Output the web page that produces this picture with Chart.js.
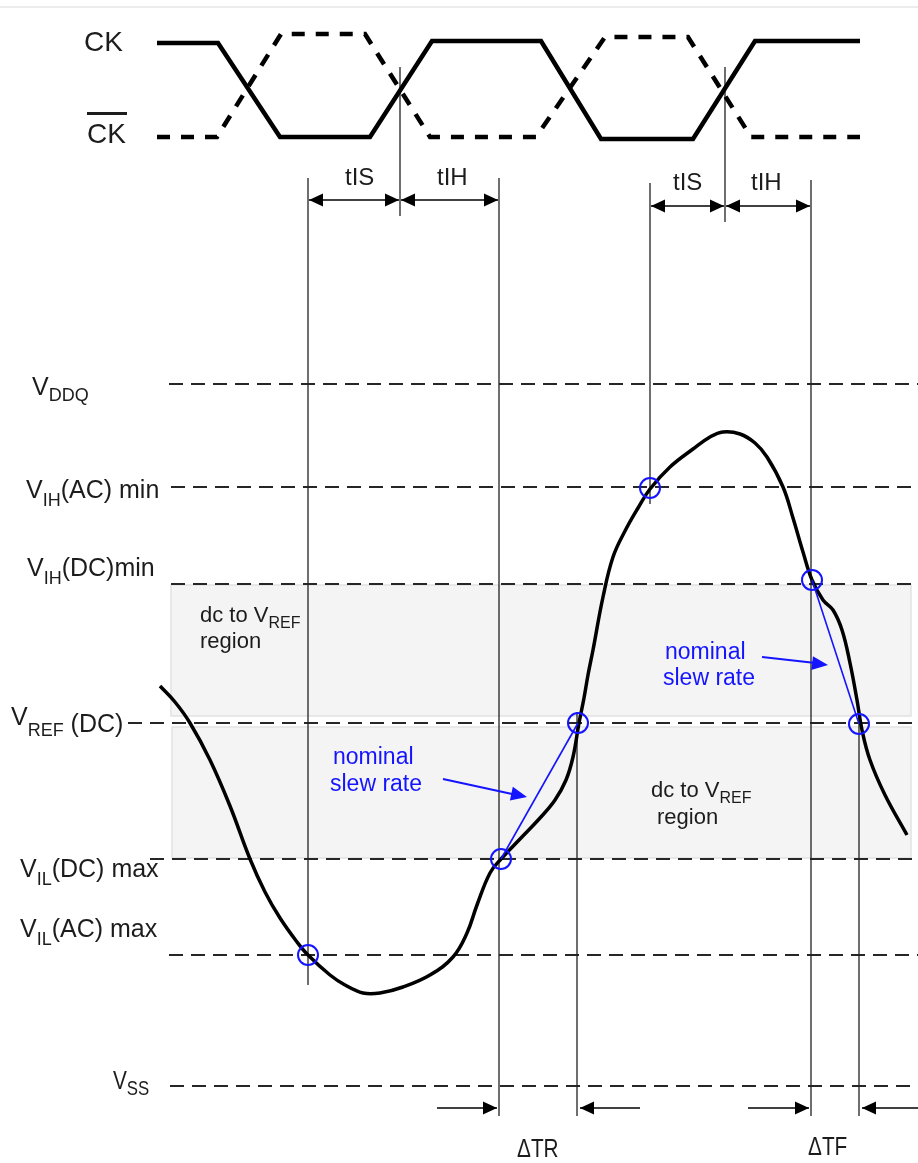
<!DOCTYPE html>
<html>
<head>
<meta charset="utf-8">
<title>Input setup / hold timing</title>
<script src="https://cdn.jsdelivr.net/npm/chart.js@4.4.1/dist/chart.umd.min.js"></script>
<style>
  html, body { margin: 0; padding: 0; background: #ffffff; }
  canvas { display: block; }
</style>
</head>
<body>
<canvas id="timingChart" width="918" height="1163"></canvas>
<script>
const ctxTiming = document.getElementById('timingChart').getContext('2d');

// clock waveforms (x = time, y = level, in sheet units)
const ckTime = [157, 218, 280, 370, 432, 541, 601, 693, 755, 860];
const ckLevel = [43, 43, 137, 137, 41, 41, 139, 139, 41, 41];
const ckBarTime = [157, 217, 281, 365, 430, 536, 605, 688, 751, 860];
const ckBarLevel = [137, 137, 34, 34, 137, 137, 37, 37, 137, 137];

// input signal
const sigTime = [160, 175, 190, 210, 230, 250, 265, 280, 297, 308, 330, 345, 363, 380, 403, 430, 453, 467, 477, 490, 501, 520, 540, 555, 566, 573, 579, 584, 588, 593, 603, 613, 625, 638, 650, 670, 693, 710, 723, 740, 755, 767, 783, 793, 803, 812, 823, 833, 842, 850, 857, 862, 870, 885, 907];
const sigLevel = [686, 702, 723, 760, 806, 859, 892, 918, 942, 955, 975, 985, 993, 993, 987, 975, 957, 933, 905, 873, 859, 839, 818, 800, 780, 757, 723, 698, 675, 650, 597, 557, 531, 508, 489, 467, 449, 437, 432, 434, 443, 457, 487, 518, 552, 580, 600, 610, 630, 663, 700, 730, 760, 795, 835];

// reference levels (dashed)
const levelNames = ['VDDQ', 'VIH(AC) min', 'VIH(DC) min', 'VREF(DC)', 'VIL(DC) max', 'VIL(AC) max', 'VSS'];
const levelValue = [384, 487, 584, 723, 859, 955, 1086];
const levelFrom = [169, 171, 171, 128, 150, 169, 170];

// dc to VREF regions [t0, level top, t1, level bottom]
const dcRegions = [[171, 585, 911, 716], [172, 727, 911, 858]];

// timing markers (vertical lines)
const markTime = [308, 400, 499, 577, 650, 725, 811, 859];
const markTop = [178, 67, 178, 712, 183, 67, 180, 712];
const markBottom = [985, 216, 1116, 1116, 504, 222, 1116, 1116];

// level crossings (circled)
const crossTime = [308, 501, 578, 650, 812, 859];
const crossLevel = [955, 859, 723, 488, 580, 724];
// nominal slew rate segments, as index pairs into the crossings
const slewPairs = [[1, 2], [4, 5]];

// tIS / tIH spans [from, to, level]
const holdSpans = [[309, 399, 200], [401, 498, 200], [651, 724, 206], [726, 810, 206]];
// ΔTR / ΔTF pointers [tail, tip, level]
const deltaPointers = [[437, 497, 1108], [640, 580, 1108], [748, 809, 1108], [918, 862, 1108]];

const pts = (xs, ys) => xs.map((x, i) => ({ x: x, y: ys[i] }));
const BLUE = '#1414ff';
const INK = '#1c1c1c';

// datasets are listed top-most first
const datasets = [];
datasets.push({
    data: pts(crossTime, crossLevel),
    showLine: false,
    pointRadius: 10,
    pointBorderWidth: 2,
    pointBorderColor: BLUE,
    pointBackgroundColor: 'rgba(0,0,0,0)',
});
slewPairs.forEach(([a, b]) => datasets.push({
    data: [{ x: crossTime[a], y: crossLevel[a] }, { x: crossTime[b], y: crossLevel[b] }],
    showLine: true, borderColor: BLUE, borderWidth: 1.6, pointRadius: 0,
}));
datasets.push({
    data: pts(sigTime, sigLevel),
    showLine: true, borderColor: '#000', borderWidth: 3.5, pointRadius: 0,
    tension: 0.4,
});
datasets.push({
    data: pts(ckTime, ckLevel),
    showLine: true, borderColor: '#000', borderWidth: 4.5, pointRadius: 0,
    borderJoinStyle: 'miter',
});
datasets.push({
    data: pts(ckBarTime, ckBarLevel),
    showLine: true, borderColor: '#000', borderWidth: 4.5, pointRadius: 0,
    borderDash: [13, 11],
});
markTime.forEach((t, i) => datasets.push({
    data: [{ x: t, y: markTop[i] }, { x: t, y: markBottom[i] }],
    showLine: true, borderColor: '#222', borderWidth: 1.3, pointRadius: 0,
}));
levelValue.forEach((v, i) => datasets.push({
    data: [{ x: levelFrom[i], y: v }, { x: 918, y: v }],
    showLine: true, borderColor: '#262626', borderWidth: 1.8, pointRadius: 0,
    borderDash: [14, 8],
}));
datasets.push({
    data: [{ x: 0, y: 7 }, { x: 918, y: 7 }],
    showLine: true, borderColor: '#ececec', borderWidth: 2, pointRadius: 0,
});

function head(c, tx, ty, fx, fy, len, half) {
    const a = Math.atan2(ty - fy, tx - fx);
    c.beginPath();
    c.moveTo(tx, ty);
    c.lineTo(tx - len * Math.cos(a) + half * Math.sin(a), ty - len * Math.sin(a) - half * Math.cos(a));
    c.lineTo(tx - len * Math.cos(a) - half * Math.sin(a), ty - len * Math.sin(a) + half * Math.cos(a));
    c.closePath();
    c.fill();
}

// draws text runs left to right; squeeze < 1 narrows the glyphs
function rich(c, x, y, parts, squeeze) {
    const k = squeeze || 1;
    c.save();
    c.translate(x, y);
    c.scale(k, 1);
    let cx = 0;
    parts.forEach(([t, size, dy]) => {
        c.font = size + 'px "Liberation Sans", Arial, sans-serif';
        c.fillText(t, cx, dy);
        cx += c.measureText(t).width;
    });
    c.restore();
}

const diagramDecor = {
    id: 'diagramDecor',
    beforeDatasetsDraw(chart) {
        const c = chart.ctx, sx = chart.scales.x, sy = chart.scales.y;
        c.save();
        dcRegions.forEach(([t0, l0, t1, l1]) => {
            const x0 = sx.getPixelForValue(t0), y0 = sy.getPixelForValue(l0);
            const w = sx.getPixelForValue(t1) - x0, h = sy.getPixelForValue(l1) - y0;
            c.fillStyle = '#f4f4f4';
            c.fillRect(x0, y0, w, h);
            c.strokeStyle = '#e2e2e2';
            c.lineWidth = 1.5;
            c.strokeRect(x0, y0, w, h);
        });
        c.restore();
    },
    afterDatasetsDraw(chart) {
        const c = chart.ctx, sx = chart.scales.x, sy = chart.scales.y;
        const X = v => sx.getPixelForValue(v), Y = v => sy.getPixelForValue(v);
        c.save();
        // timing arrows
        c.strokeStyle = '#000';
        c.fillStyle = '#000';
        c.lineWidth = 1.5;
        holdSpans.forEach(([a, b, l]) => {
            c.beginPath(); c.moveTo(X(a), Y(l)); c.lineTo(X(b), Y(l)); c.stroke();
            head(c, X(a), Y(l), X(b), Y(l), 14, 6.5);
            head(c, X(b), Y(l), X(a), Y(l), 14, 6.5);
        });
        deltaPointers.forEach(([a, b, l]) => {
            c.beginPath(); c.moveTo(X(a), Y(l)); c.lineTo(X(b), Y(l)); c.stroke();
            head(c, X(b), Y(l), X(a), Y(l), 14, 6.5);
        });
        // slew rate pointers
        c.strokeStyle = BLUE;
        c.fillStyle = BLUE;
        c.lineWidth = 2;
        [[443, 779, 527, 797], [762, 657, 828, 665]].forEach(([x0, y0, x1, y1]) => {
            c.beginPath(); c.moveTo(X(x0), Y(y0)); c.lineTo(X(x1) - 8, Y(y1) - 1.5); c.stroke();
            head(c, X(x1), Y(y1), X(x0), Y(y0), 16, 7);
        });

        // text
        c.textBaseline = 'alphabetic';
        c.fillStyle = INK;
        const M = 25, S = 18;
        rich(c, 84, 51, [['CK', 28, 0]]);
        rich(c, 87, 143, [['CK', 28, 0]]);
        c.fillRect(87, 112, 40, 3);
        rich(c, 32, 395, [['V', M, 0], ['DDQ', S, 6]]);
        rich(c, 26, 498, [['V', M, 0], ['IH', S, 8], ['(AC) min', M, 0]]);
        rich(c, 27, 576, [['V', M, 0], ['IH', S, 8], ['(DC)min', M, 0]]);
        rich(c, 11, 725, [['V', M, 0], ['REF', S, 11], [' (DC)', M, 7]]);
        rich(c, 20, 877, [['V', M, 0], ['IL', S, 8], ['(DC) max', M, 0]]);
        rich(c, 20, 937, [['V', M, 0], ['IL', S, 8], ['(AC) max', M, 0]]);
        rich(c, 113, 1089, [['V', 26, 0], ['SS', 21, 6]], 0.8);
        rich(c, 345, 185, [['tIS', 24, 0]]);
        rich(c, 437, 185, [['tIH', 24, 0]]);
        rich(c, 673, 190, [['tIS', 24, 0]]);
        rich(c, 751, 190, [['tIH', 24, 0]]);
        rich(c, 200, 622, [['dc to V', 22, 0], ['REF', 16, 6]]);
        rich(c, 200, 648, [['region', 22, 0]]);
        rich(c, 651, 797, [['dc to V', 22, 0], ['REF', 16, 6]]);
        rich(c, 657, 824, [['region', 22, 0]]);
        rich(c, 517, 1157, [['ΔTR', 26, 0]], 0.8);
        rich(c, 808, 1155, [['ΔTF', 26, 0]], 0.8);
        c.fillStyle = BLUE;
        rich(c, 333, 764, [['nominal', 23, 0]]);
        rich(c, 330, 791, [['slew rate', 23, 0]]);
        rich(c, 665, 659, [['nominal', 23, 0]]);
        rich(c, 663, 685, [['slew rate', 23, 0]]);
        c.restore();
    }
};

const configTiming = {
    type: 'scatter',
    data: { datasets: datasets },
    options: {
        responsive: false,
        animation: false,
        events: [],
        layout: { padding: 0, autoPadding: false },
        plugins: {
            legend: { display: false },
            tooltip: { enabled: false },
        },
        scales: {
            x: { type: 'linear', min: 0, max: 918, display: false },
            y: { type: 'linear', min: 0, max: 1163, reverse: true, display: false },
        },
    },
    plugins: [diagramDecor],
};

new Chart(ctxTiming, configTiming);
</script>
</body>
</html>
